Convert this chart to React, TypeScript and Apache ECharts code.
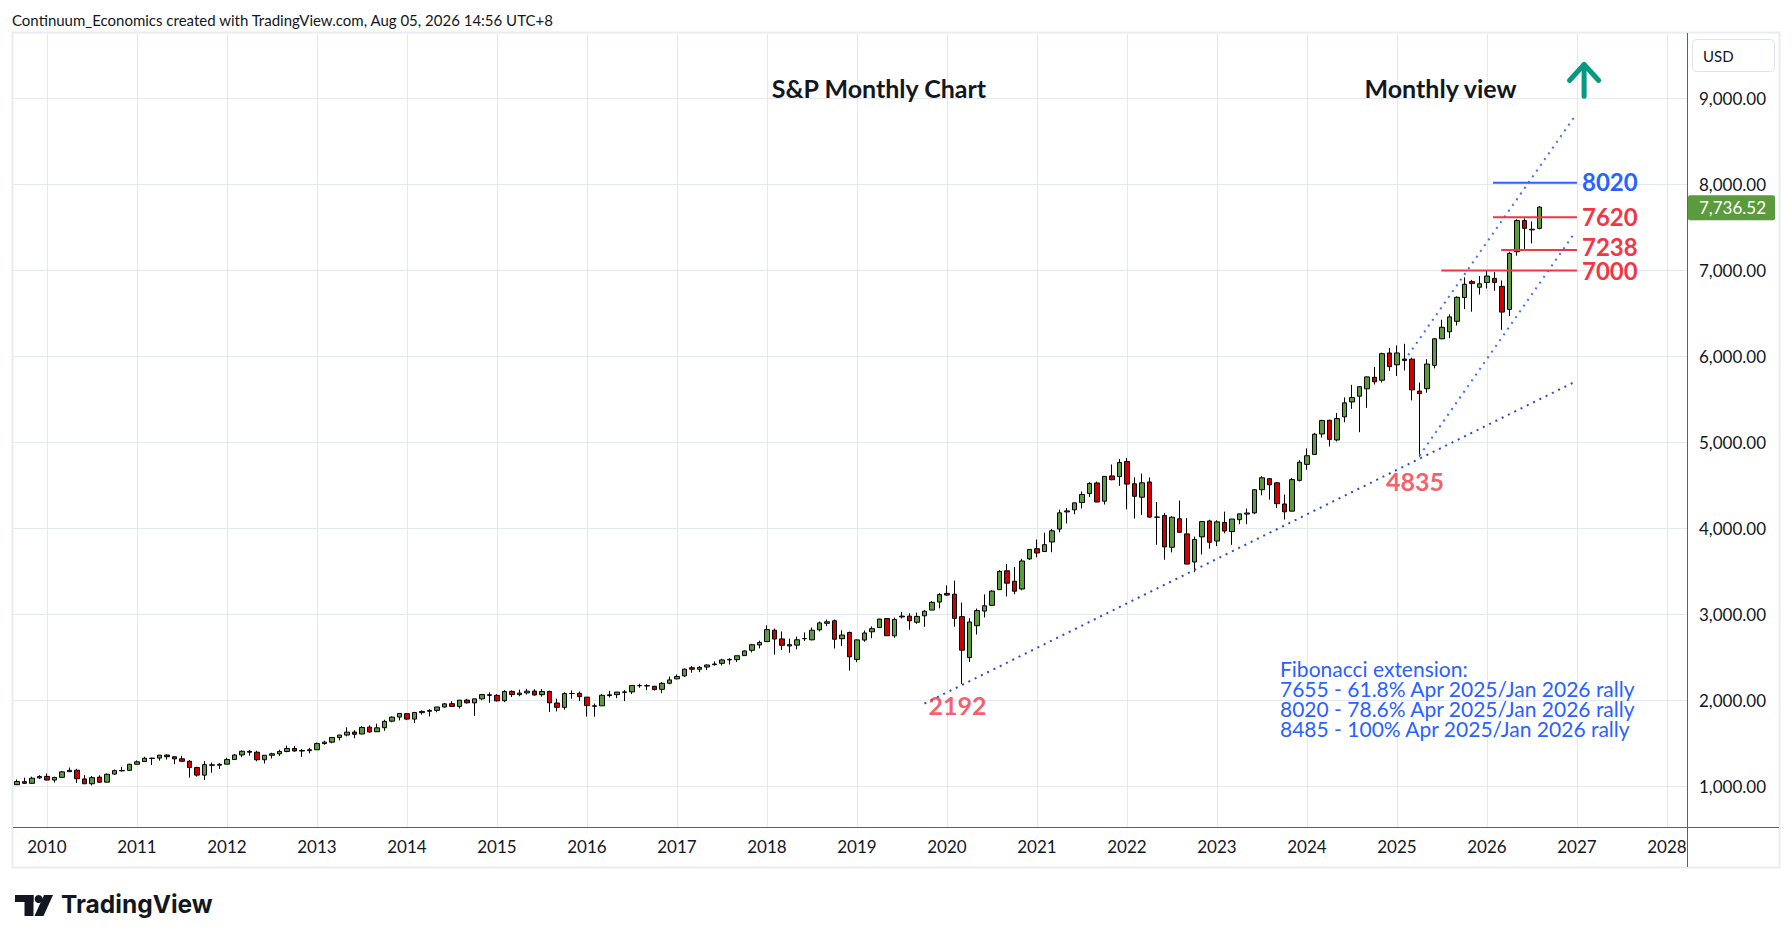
import React, { useEffect, useRef } from "react";
import * as echarts from "echarts";

// Months are counted from Jan 2010 (= 0). First candle: Sep 2009.
const FIRST_MONTH = -4;

// Monthly OHLC, Sep 2009 .. Aug 2026
const opens = [
  1020.0, 1054.9, 1036.2, 1098.9,
  1116.6, 1073.9, 1105.4, 1171.2, 1188.6, 1087.3, 1031.1, 1107.5, 1049.7, 1143.5, 1185.7, 1186.6,
  1257.6, 1289.1, 1328.6, 1329.5, 1365.2, 1345.2, 1320.6, 1292.6, 1219.1, 1131.2, 1251.0, 1246.9,
  1258.9, 1312.5, 1365.9, 1408.5, 1397.9, 1309.9, 1362.3, 1379.3, 1406.5, 1440.9, 1412.2, 1416.2,
  1426.2, 1498.1, 1514.7, 1569.2, 1597.6, 1631.7, 1609.8, 1689.4, 1635.9, 1682.4, 1758.7, 1806.6,
  1845.9, 1782.7, 1857.7, 1873.9, 1884.4, 1923.9, 1962.3, 1929.8, 2004.1, 1971.4, 2018.2, 2065.8,
  2058.9, 1996.7, 2105.2, 2067.6, 2087.4, 2108.6, 2067.0, 2104.5, 1970.1, 1919.7, 2080.8, 2082.9,
  2038.2, 1936.9, 1937.1, 2056.6, 2067.2, 2093.9, 2099.3, 2173.2, 2171.3, 2164.3, 2128.7, 2200.2,
  2251.6, 2285.6, 2380.1, 2362.3, 2388.5, 2415.7, 2431.4, 2477.1, 2474.4, 2521.2, 2583.2, 2645.1,
  2683.7, 2816.5, 2715.2, 2633.5, 2643.0, 2718.7, 2705.0, 2821.2, 2897.0, 2926.3, 2717.6, 2790.5,
  2477.0, 2702.3, 2798.2, 2848.6, 2952.3, 2751.5, 2971.4, 2980.3, 2909.0, 2983.7, 3050.7, 3143.9,
  3244.7, 3235.7, 2974.3, 2498.1, 2869.1, 3038.8, 3105.9, 3288.3, 3507.4, 3385.9, 3296.2, 3645.9,
  3764.6, 3731.2, 3842.5, 3992.8, 4192.0, 4216.5, 4300.7, 4406.9, 4528.8, 4317.2, 4610.6, 4602.8,
  4778.1, 4519.6, 4363.1, 4540.3, 4130.6, 4149.8, 3781.0, 4112.4, 3936.7, 3609.8, 3901.8, 4087.1,
  3853.3, 4070.1, 3963.3, 4102.2, 4166.8, 4181.0, 4450.5, 4578.8, 4530.6, 4284.5, 4201.3, 4559.4,
  4745.2, 4861.1, 5098.5, 5258.0, 5029.0, 5297.1, 5471.1, 5537.8, 5623.9, 5757.7, 5723.2, 6040.1,
  5903.3, 5969.7, 5968.3, 5597.5, 5625.1, 5896.7, 6205.0, 6287.3, 6409.0, 6685.0, 6870.0, 6805.0,
  6860.0, 6908.0, 6815.0, 6547.0, 7218.0, 7580.0, 7472.0, 7490.0,
];
const highs = [
  1080.2, 1101.4, 1113.7, 1130.4,
  1150.5, 1112.4, 1180.2, 1219.8, 1205.1, 1131.2, 1120.9, 1129.2, 1148.9, 1196.1, 1227.1, 1262.6,
  1302.7, 1344.1, 1332.3, 1366.6, 1370.6, 1345.2, 1356.5, 1307.4, 1229.3, 1292.7, 1277.6, 1269.4,
  1333.5, 1378.0, 1419.2, 1422.4, 1415.3, 1363.5, 1391.7, 1426.7, 1474.5, 1470.0, 1434.3, 1448.0,
  1509.9, 1530.9, 1570.3, 1597.6, 1687.2, 1654.2, 1698.8, 1709.7, 1730.0, 1775.2, 1813.6, 1849.4,
  1850.8, 1867.9, 1883.9, 1897.3, 1924.0, 1968.2, 1991.4, 2005.0, 2019.3, 2018.2, 2075.8, 2093.6,
  2072.4, 2119.6, 2117.5, 2125.9, 2134.7, 2129.9, 2132.8, 2112.7, 2020.9, 2094.3, 2116.5, 2104.3,
  2038.2, 1962.9, 2072.2, 2111.1, 2099.7, 2120.6, 2177.1, 2193.8, 2187.9, 2169.6, 2214.1, 2277.5,
  2300.9, 2371.5, 2401.0, 2398.2, 2418.7, 2454.0, 2484.0, 2490.9, 2519.4, 2582.0, 2657.7, 2695.0,
  2872.9, 2836.0, 2801.9, 2717.5, 2742.2, 2791.5, 2848.0, 2916.5, 2940.9, 2939.9, 2815.2, 2800.2,
  2709.0, 2813.5, 2860.3, 2949.5, 2954.1, 2964.2, 3028.0, 3013.6, 3022.0, 3050.1, 3154.3, 3247.9,
  3337.8, 3393.5, 3136.7, 2954.9, 3068.7, 3233.1, 3280.0, 3514.8, 3588.1, 3549.9, 3645.9, 3760.2,
  3870.9, 3950.4, 3994.4, 4218.8, 4238.0, 4302.4, 4430.0, 4537.4, 4545.9, 4608.1, 4743.8, 4808.9,
  4818.6, 4595.3, 4637.3, 4593.5, 4307.7, 4177.5, 4140.2, 4325.3, 4119.3, 3905.4, 4080.1, 4101.0,
  4094.2, 4195.4, 4110.8, 4170.1, 4231.1, 4448.5, 4607.1, 4584.6, 4541.3, 4393.6, 4587.6, 4793.3,
  4931.1, 5111.1, 5264.9, 5264.0, 5341.9, 5523.6, 5669.7, 5651.6, 5767.4, 5878.5, 6044.2, 6100.0,
  6128.2, 6147.4, 5986.1, 5695.3, 5968.6, 6215.1, 6427.0, 6490.0, 6699.0, 6920.0, 6890.0, 6935.0,
  6995.0, 6981.0, 6884.0, 7218.0, 7595.0, 7606.0, 7572.0, 7749.0,
];
const lows = [
  1018.3, 1029.4, 1029.4, 1085.9,
  1071.6, 1044.5, 1105.4, 1170.7, 1040.8, 1028.3, 1010.9, 1039.7, 1048.2, 1131.9, 1173.0, 1186.6,
  1257.6, 1289.1, 1249.1, 1299.4, 1311.8, 1258.1, 1282.9, 1101.5, 1114.2, 1074.8, 1158.7, 1202.4,
  1258.9, 1312.5, 1340.0, 1357.4, 1291.9, 1266.7, 1325.4, 1354.7, 1396.6, 1403.3, 1343.4, 1385.4,
  1426.2, 1485.0, 1501.5, 1536.0, 1581.3, 1560.3, 1604.6, 1627.5, 1633.4, 1646.5, 1746.2, 1767.9,
  1770.5, 1737.9, 1834.4, 1814.4, 1862.4, 1915.2, 1930.7, 1904.8, 1964.0, 1820.7, 2001.0, 1972.6,
  1988.1, 1980.9, 2039.7, 2048.4, 2067.9, 2056.3, 2044.0, 1867.0, 1871.9, 1893.7, 2019.4, 1993.3,
  1812.3, 1810.1, 1937.1, 2033.8, 2025.9, 1991.7, 2074.0, 2147.6, 2119.1, 2114.7, 2083.8, 2187.4,
  2245.1, 2271.7, 2322.3, 2328.9, 2352.7, 2405.7, 2407.7, 2417.4, 2446.6, 2520.4, 2557.5, 2605.5,
  2682.4, 2532.7, 2585.9, 2553.8, 2594.6, 2692.0, 2699.0, 2802.5, 2864.1, 2603.5, 2631.1, 2346.6,
  2444.0, 2681.8, 2722.3, 2848.6, 2750.5, 2728.8, 2952.2, 2822.1, 2891.9, 2855.9, 3050.7, 3070.3,
  3214.6, 2855.8, 2191.9, 2447.5, 2766.6, 2965.7, 3101.2, 3284.5, 3209.5, 3233.9, 3279.7, 3633.4,
  3662.7, 3725.6, 3723.3, 3955.5, 4056.9, 4164.4, 4233.1, 4367.7, 4305.9, 4278.9, 4560.0, 4495.1,
  4222.6, 4114.7, 4157.9, 4124.3, 3810.3, 3636.9, 3721.6, 3954.5, 3584.1, 3491.6, 3698.2, 3764.5,
  3794.3, 3943.1, 3808.9, 4049.4, 4048.3, 4166.2, 4385.1, 4335.3, 4238.6, 4103.8, 4197.7, 4546.5,
  4682.1, 4853.9, 5056.8, 4953.6, 5011.1, 5234.3, 5391.0, 5119.3, 5402.6, 5674.0, 5696.5, 5832.3,
  5773.3, 5837.7, 5488.7, 4835.0, 5578.6, 5861.4, 6201.6, 6212.7, 6360.0, 6551.0, 6520.0, 6720.0,
  6790.0, 6763.0, 6310.0, 6469.0, 7172.0, 7229.0, 7315.0, 7478.0,
];
const closes = [
  1057.1, 1036.2, 1095.6, 1115.1,
  1073.9, 1104.5, 1169.4, 1186.7, 1089.4, 1030.7, 1101.6, 1049.3, 1141.2, 1183.3, 1180.6, 1257.6,
  1286.1, 1327.2, 1325.8, 1363.6, 1345.2, 1320.6, 1292.3, 1218.9, 1131.4, 1253.3, 1246.9, 1257.6,
  1312.4, 1365.7, 1408.5, 1397.9, 1310.3, 1362.2, 1379.3, 1406.6, 1440.7, 1412.2, 1416.2, 1426.2,
  1498.1, 1514.7, 1569.2, 1597.6, 1630.7, 1606.3, 1685.7, 1633.0, 1681.6, 1756.5, 1805.8, 1848.4,
  1782.6, 1859.5, 1872.3, 1883.9, 1923.6, 1960.2, 1930.7, 2003.4, 1972.3, 2018.1, 2067.6, 2058.9,
  1995.0, 2104.5, 2067.9, 2085.5, 2107.4, 2063.1, 2103.8, 1972.2, 1920.0, 2079.4, 2080.4, 2043.9,
  1940.2, 1932.2, 2059.7, 2065.3, 2096.9, 2098.9, 2173.6, 2170.9, 2168.3, 2126.2, 2198.8, 2238.8,
  2278.9, 2363.6, 2362.7, 2384.2, 2411.8, 2423.4, 2470.3, 2471.7, 2519.4, 2575.3, 2647.6, 2673.6,
  2823.8, 2713.8, 2640.9, 2648.1, 2705.3, 2718.4, 2816.3, 2901.5, 2914.0, 2711.7, 2760.2, 2506.9,
  2704.1, 2784.5, 2834.4, 2945.8, 2752.1, 2941.8, 2980.4, 2926.5, 2976.7, 3037.6, 3141.0, 3230.8,
  3225.5, 2954.2, 2584.6, 2912.4, 3044.3, 3100.3, 3271.1, 3500.3, 3363.0, 3270.0, 3621.6, 3756.1,
  3714.2, 3811.2, 3972.9, 4181.2, 4204.1, 4297.5, 4395.3, 4522.7, 4307.5, 4605.4, 4567.0, 4766.2,
  4515.6, 4373.9, 4530.4, 4131.9, 4132.2, 3785.4, 4130.3, 3955.0, 3585.6, 3872.0, 4080.1, 3839.5,
  4076.6, 3970.2, 4109.3, 4169.5, 4179.8, 4450.4, 4589.0, 4507.7, 4288.1, 4193.8, 4567.8, 4769.8,
  4845.7, 5096.3, 5254.4, 5035.7, 5277.5, 5460.5, 5522.3, 5648.4, 5762.5, 5705.5, 6032.4, 5881.6,
  6040.5, 5954.5, 5611.9, 5569.1, 5911.7, 6205.0, 6339.4, 6460.3, 6688.0, 6840.0, 6849.0, 6845.0,
  6935.0, 6861.0, 6516.0, 7199.0, 7580.0, 7490.0, 7480.0, 7736.52,
];

// Axis ticks
const yearTicks = [2010, 2011, 2012, 2013, 2014, 2015, 2016, 2017, 2018, 2019, 2020, 2021, 2022, 2023, 2024, 2025, 2026, 2027, 2028];
const priceTicks = [1000, 2000, 3000, 4000, 5000, 6000, 7000, 8000, 9000];

// Horizontal levels (value, start month, end month)
const levelValues = [8020, 7620, 7238, 7000];
const levelStart = [192.8, 192.8, 193.9, 185.9];
const levelEnd = [204, 204, 204, 204];

// Dotted trend lines [month, price]
const trendLong = [[117, 1964], [204, 5717]];
const channelUpper = [[181.5, 6016], [203.6, 8780]];
const channelLower = [[183, 4845], [203.6, 7426]];

// Swing-low annotations [month, price]
const swingLabels = ["2192", "4835"];
const swingPoints = [[121.4, 1941], [182.4, 4557]];

// Arrow (up target) [month, price]
const arrowShaft = [[204.95, 9026], [204.95, 9395]];
const arrowHead = [[203.0, 9210], [204.95, 9395], [206.9, 9210]];

const fibLines = [
  "Fibonacci extension:",
  "7655 - 61.8% Apr 2025/Jan 2026 rally",
  "8020 - 78.6% Apr 2025/Jan 2026 rally",
  "8485 - 100% Apr 2025/Jan 2026 rally",
];

const UP = "#5b9b3e";
const DOWN = "#d10000";
const RED = "#f23645";
const BLUE = "#2962ff";
const TEXT = "#131722";
const GRID = "#e4e9ef";
const FONT = "Lato, 'Open Sans', sans-serif";

export default function App() {
  const ref = useRef<HTMLDivElement>(null);

  useEffect(() => {
    const el = ref.current;
    if (!el) return;
    const chart = echarts.init(el, undefined, { renderer: "svg" });

    const candles = opens.map((o, i) => [i + FIRST_MONTH, o, closes[i], lows[i], highs[i]]);
    const yearMonths = yearTicks.map((y) => (y - 2010) * 12);
    const labelOffsets = [-1, -1, -4, 0];

    const levelSeries = levelValues.map((v, i) => ({
      type: "line",
      silent: true,
      symbol: "none",
      z: 4,
      data: [[levelStart[i], v], [levelEnd[i], v]],
      lineStyle: { color: i === 0 ? BLUE : RED, width: 2 },
      endLabel: {
        show: true,
        formatter: String(v),
        color: i === 0 ? BLUE : RED,
        fontSize: 24,
        lineHeight: 21,
        fontFamily: FONT,
        fontWeight: "bold",
        distance: 5,
        offset: [0, labelOffsets[i]],
      },
    }));

    const dotted = (data: number[][], color: string) => ({
      type: "line",
      silent: true,
      symbol: "none",
      z: 3,
      data,
      lineStyle: { color, width: 2, type: [2, 5] },
    });

    const option: any = {
      animation: false,
      backgroundColor: "#ffffff",
      grid: { left: 13, right: 105, top: 34, bottom: 115, outerBoundsMode: "none" },
      xAxis: {
        type: "value",
        min: -4.53,
        max: 218.67,
        axisLine: { show: false },
        axisTick: { show: false, customValues: yearMonths },
        axisLabel: {
          customValues: yearMonths,
          formatter: (v: number) => String(2010 + Math.round(v / 12)),
          color: TEXT,
          fontSize: 17,
          fontFamily: FONT,
          margin: 11,
        },
        splitLine: { show: true, lineStyle: { color: GRID, width: 1 } },
      },
      yAxis: {
        type: "value",
        position: "right",
        min: 528,
        max: 9750,
        axisLine: { show: false },
        axisTick: { show: false, customValues: priceTicks },
        axisLabel: {
          customValues: priceTicks,
          formatter: (v: number) =>
            v.toLocaleString("en-US", { minimumFractionDigits: 2, maximumFractionDigits: 2 }),
          color: TEXT,
          fontSize: 17,
          fontFamily: FONT,
          margin: 12,
        },
        splitLine: { show: true, lineStyle: { color: GRID, width: 1 } },
      },
      series: [
        {
          type: "candlestick",
          silent: true,
          data: candles,
          encode: { x: 0, y: [1, 2, 3, 4] },
          barWidth: 5,
          z: 2,
          itemStyle: {
            color: UP,
            color0: DOWN,
            borderColor: "#000000",
            borderColor0: "#000000",
            borderWidth: 1,
          },
        },
        dotted(trendLong, "#2a4cc0"),
        dotted(channelUpper, "#3f6dff"),
        dotted(channelLower, "#3f6dff"),
        ...levelSeries,
        {
          type: "line",
          silent: true,
          symbol: "none",
          z: 5,
          data: arrowShaft,
          lineStyle: { color: "#089981", width: 5, cap: "round", join: "round" },
        },
        {
          type: "line",
          silent: true,
          symbol: "none",
          z: 5,
          data: arrowHead,
          lineStyle: { color: "#089981", width: 5, cap: "round", join: "round" },
        },
        {
          type: "scatter",
          silent: true,
          symbol: "rect",
          symbolSize: 1,
          z: 5,
          itemStyle: { color: "rgba(0,0,0,0)" },
          data: swingPoints,
          label: {
            show: true,
            position: "inside",
            formatter: (p: any) => swingLabels[p.dataIndex],
            color: RED,
            fontSize: 25,
            fontFamily: FONT,
            fontWeight: "bold",
          },
        },
      ],
    };

    chart.setOption(option);

    const last = closes[closes.length - 1];
    const yLast = chart.convertToPixel({ yAxisIndex: 0 }, last) as number;
    const lastText = last.toLocaleString("en-US", { minimumFractionDigits: 2, maximumFractionDigits: 2 });

    const txt = (
      text: string,
      x: number,
      y: number,
      size: number,
      weight: any,
      fill: string,
      align = "left",
      family = FONT
    ) => ({
      type: "text",
      silent: true,
      z: 10,
      style: {
        text,
        x,
        y,
        fill,
        font: `${weight} ${size}px ${family}`,
        align,
        verticalAlign: "middle",
      },
    });

    const graphics: any[] = [
      // outer frame
      {
        type: "rect",
        silent: true,
        z: 1,
        shape: { x: 12.5, y: 32.5, width: 1767, height: 835 },
        style: { fill: "none", stroke: "#e9ecf1", lineWidth: 2 },
      },
      // price axis separator and time axis line
      {
        type: "line",
        silent: true,
        z: 9,
        shape: { x1: 1687.5, y1: 33, x2: 1687.5, y2: 867 },
        style: { stroke: "#5d606b", lineWidth: 1 },
      },
      {
        type: "line",
        silent: true,
        z: 9,
        shape: { x1: 13, y1: 827.5, x2: 1779, y2: 827.5 },
        style: { stroke: "#5d606b", lineWidth: 1 },
      },
      // USD box
      {
        type: "rect",
        silent: true,
        z: 10,
        shape: { x: 1692.5, y: 39.5, width: 82, height: 32, r: 4 },
        style: { fill: "#ffffff", stroke: "#e0e3eb", lineWidth: 1 },
      },
      txt("USD", 1703, 55.5, 15, "normal", TEXT),
      // last price label
      {
        type: "rect",
        silent: true,
        z: 10,
        shape: { x: 1688, y: yLast - 12, width: 87, height: 25, r: 2 },
        style: { fill: UP },
      },
      txt(lastText, 1699, yLast + 0.5, 17, "normal", "#ffffff"),
      // attribution
      txt("Continuum_Economics created with TradingView.com, Aug 05, 2026 14:56 UTC+8", 12, 19.5, 15, "normal", TEXT),
      // titles
      txt("S&P Monthly Chart", 879, 88, 25, "bold", TEXT, "center"),
      txt("Monthly view", 1440.5, 88, 25, "bold", TEXT, "center"),
      // Fibonacci note
      ...fibLines.map((l, i) => txt(l, 1280, 668.4 + i * 19.9, 21, "normal", BLUE)),
      // TradingView logo
      {
        type: "rect",
        silent: true,
        z: 10,
        shape: { x: 15, y: 895, width: 18.5, height: 7 },
        style: { fill: TEXT },
      },
      {
        type: "rect",
        silent: true,
        z: 10,
        shape: { x: 24.5, y: 895, width: 9, height: 21 },
        style: { fill: TEXT },
      },
      {
        type: "circle",
        silent: true,
        z: 10,
        shape: { cx: 38.6, cy: 899, r: 4 },
        style: { fill: TEXT },
      },
      {
        type: "polygon",
        silent: true,
        z: 10,
        shape: { points: [[44, 895], [53, 895], [43.5, 916], [34.5, 916]] },
        style: { fill: TEXT },
      },
      txt("TradingView", 61, 904, 24.5, "bold", TEXT, "left", "Inter, 'Open Sans', sans-serif"),
    ];

    chart.setOption({ graphic: graphics });

    return () => {
      chart.dispose();
    };
  }, []);

  return (
    <div
      ref={ref}
      style={{ position: "fixed", left: 0, top: 0, width: 1792, height: 942, background: "#ffffff" }}
    />
  );
}
